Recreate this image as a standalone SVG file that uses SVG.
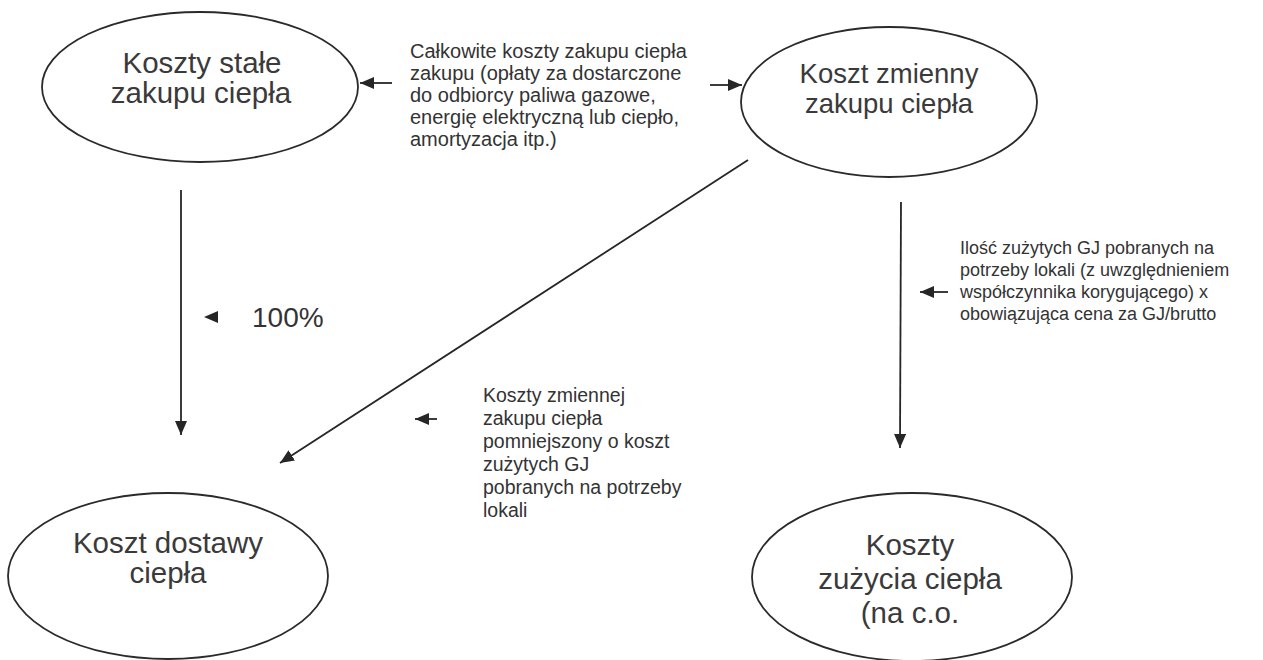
<svg xmlns="http://www.w3.org/2000/svg" width="1263" height="660" viewBox="0 0 1263 660">
  <style>
    .node ellipse { fill: #ffffff; stroke: #2a2a2a; stroke-width: 1.8; }
    .nlabel { font-family: "Liberation Sans", Arial, sans-serif; font-size: 29.5px; fill: #3a3a3a; text-anchor: middle; }
    .note { font-family: "Liberation Sans", Arial, sans-serif; fill: #333333; }
    .conn line { stroke: #262626; stroke-width: 1.8; fill: none; }
    .head { fill: #262626; }
  </style>
  <defs>
    <marker id="arr" markerUnits="userSpaceOnUse" markerWidth="15" markerHeight="13" refX="14" refY="6" orient="auto">
      <path d="M0,0 L14,6 L0,12 z" fill="#262626"/>
    </marker>
  </defs>
  <rect width="1263" height="660" fill="#ffffff"/>

  <g id="connectors" class="conn">
    <line x1="392" y1="83" x2="360" y2="83" marker-end="url(#arr)"/>
    <line x1="710" y1="85" x2="742" y2="85" marker-end="url(#arr)"/>
    <line x1="181" y1="190" x2="181" y2="435" marker-end="url(#arr)"/>
    <line x1="748" y1="160" x2="280" y2="463" marker-end="url(#arr)"/>
    <line x1="901" y1="202" x2="900" y2="448" marker-end="url(#arr)"/>
    <line x1="948" y1="292" x2="920" y2="292" marker-end="url(#arr)"/>
    <line x1="437" y1="419" x2="415" y2="419" marker-end="url(#arr)"/>
    <polygon class="head" points="204,317 218,311 218,323"/>
  </g>

  <g id="node-koszty-stale" class="node">
    <ellipse cx="200" cy="87" rx="158" ry="75"/>
    <text class="nlabel" x="202" y="73">Koszty stałe</text>
    <text class="nlabel" x="201" y="103">zakupu ciepła</text>
  </g>

  <g id="node-koszt-zmienny" class="node">
    <ellipse cx="889" cy="102" rx="148" ry="75"/>
    <text class="nlabel" x="889" y="83" style="font-size:27.5px">Koszt zmienny</text>
    <text class="nlabel" x="889" y="113" style="font-size:27.5px">zakupu ciepła</text>
  </g>

  <g id="node-koszt-dostawy" class="node">
    <ellipse cx="168" cy="576" rx="160" ry="83"/>
    <text class="nlabel" x="168" y="553">Koszt dostawy</text>
    <text class="nlabel" x="168" y="583">ciepła</text>
  </g>

  <g id="node-koszty-zuzycia" class="node">
    <ellipse cx="912" cy="577" rx="160" ry="84"/>
    <text class="nlabel" x="910" y="555">Koszty</text>
    <text class="nlabel" x="910" y="589">zużycia ciepła</text>
    <text class="nlabel" x="910" y="623">(na c.o.</text>
  </g>

  <g id="label-calkowite" class="note" style="font-size:20px">
    <text x="410" y="58">Całkowite koszty zakupu ciepła</text>
    <text x="410" y="80">zakupu (opłaty za dostarczone</text>
    <text x="410" y="102">do odbiorcy paliwa gazowe,</text>
    <text x="410" y="124">energię elektryczną lub ciepło,</text>
    <text x="410" y="146">amortyzacja itp.)</text>
  </g>

  <g id="label-100" class="note">
    <text x="252" y="327" style="font-size:28px">100%</text>
  </g>

  <g id="label-koszty-zmiennej" class="note" style="font-size:19.5px">
    <text x="483" y="402">Koszty zmiennej</text>
    <text x="483" y="425">zakupu ciepła</text>
    <text x="483" y="448">pomniejszony o koszt</text>
    <text x="483" y="471">zużytych GJ</text>
    <text x="483" y="494">pobranych na potrzeby</text>
    <text x="483" y="517">lokali</text>
  </g>

  <g id="label-ilosc" class="note" style="font-size:18px">
    <text x="960" y="254">Ilość zużytych GJ pobranych na</text>
    <text x="960" y="276">potrzeby lokali (z uwzględnieniem</text>
    <text x="960" y="298">współczynnika korygującego) x</text>
    <text x="960" y="320">obowiązująca cena za GJ/brutto</text>
  </g>
</svg>
